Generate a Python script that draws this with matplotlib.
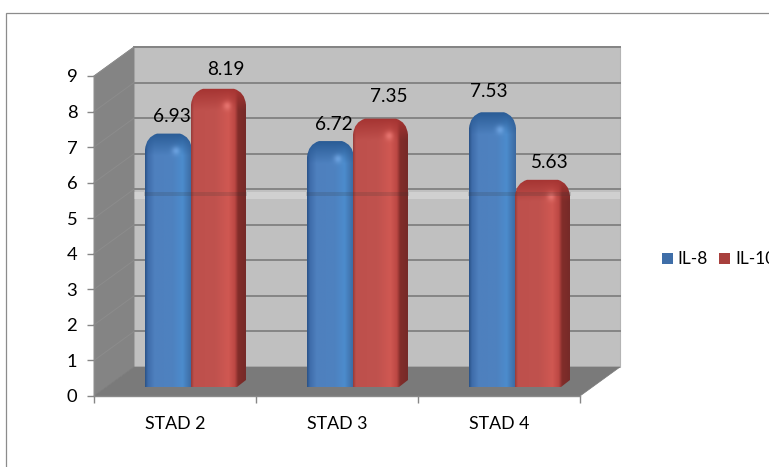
import numpy as np
import matplotlib
matplotlib.use("Agg")
import matplotlib.pyplot as plt
from matplotlib.patches import PathPatch, Polygon, Rectangle
from matplotlib.path import Path

categories = ["STAD 2", "STAD 3", "STAD 4"]
il8 = [6.93, 6.72, 7.53]
il10 = [8.19, 7.35, 5.63]
yticks = list(range(10))
series_names = ["IL-8", "IL-10"]

W, H = 769, 467
plt.rcParams['font.family'] = ['Lato', 'DejaVu Sans']
FS = 12.8
fig = plt.figure(figsize=(W/100, H/100), dpi=100)
fig.patch.set_facecolor('white')
L, R, T, B = 94, 580, 76, 396
ax = fig.add_axes([L/W, 1-B/H, (R-L)/W, (B-T)/H])
ax.set_xlim(0, 3)
ax.set_ylim(0, 9)
ax.patch.set_visible(False)
for s in ax.spines.values():
    s.set_visible(False)

px_x = 3/(R-L)      # data per pixel
px_y = 9/(B-T)
dx, dy = 40*px_x, 29*px_y

# outer chart border
fig.add_artist(Rectangle((5.5/W, -0.1), 1.0, 1-12.5/H+0.1, transform=fig.transFigure,
                         fc='none', ec='#8c8c8c', lw=0.9))

# walls
ax.add_patch(Rectangle((dx, dy), 3, 9, fc='#c0c0c0', ec='#b4b4b4', lw=0.8, clip_on=False, zorder=1))
ax.plot([dx, 3+dx], [9+dy, 9+dy], color='#8e8e8e', lw=1.2, clip_on=False, zorder=1.2)
ax.add_patch(Polygon([(0, 0), (dx, dy), (dx, 9+dy), (0, 9)], fc='#848484', ec='#848484', lw=0.5, clip_on=False, zorder=1.5))
ax.add_patch(Polygon([(0, 0), (3, 0), (3+dx, dy), (dx, dy)], fc='#7a7a7a', ec='#7a7a7a', lw=0.5, clip_on=False, zorder=1.5))

# gridlines
for v in yticks[1:]:
    ax.plot([dx, 3+dx], [v+dy, v+dy], color='#858585', lw=1.4, clip_on=False, zorder=1.3)
    ax.plot([0, dx], [v, v+dy], color='#8c8c8c', lw=0.7, clip_on=False, zorder=1.6)

# axes
ax.set_xticks([0, 1, 2, 3])
ax.set_xticklabels([])
ax.set_yticks(yticks)
ax.tick_params(axis='both', color='#868686', width=1.0, length=5, labelsize=FS+0.4, labelcolor='black', pad=7)
ax.plot([0, 3], [0, 0], color='#8a8a8a', lw=1.0, clip_on=False, zorder=1.7)
ax.plot([0, 0], [0, 9], color='#8a8a8a', lw=1.0, clip_on=False, zorder=1.7)
for i, c in enumerate(categories):
    ax.text(i+0.5, -28/35.55, c, ha='center', va='center', fontsize=FS, color='black')

BASE = 9*px_y
CAP = 16*px_y


def bar(x0, x1, value, stops, light, order, chamfer=False):
    top = value + CAP
    cx = 12*px_x
    cy = 16*px_y
    ch = 9*px_x if chamfer else 2*px_x
    verts = [(x0, BASE), (x0, top-cy), (x0+0.1*cx, top-0.2*cy), (x0+cx, top),
             (x1-cx, top), (x1-0.1*cx, top-0.2*cy), (x1, top-cy),
             (x1, BASE+7*px_y if chamfer else BASE), (x1-ch, BASE), (x0, BASE)]
    codes = [Path.MOVETO, Path.LINETO, Path.CURVE3, Path.CURVE3,
             Path.LINETO, Path.CURVE3, Path.CURVE3,
             Path.LINETO, Path.LINETO, Path.CLOSEPOLY]
    n = 120
    ny = 240
    frac = np.linspace(0, 1, n)
    pos, cols = zip(*stops)
    cols = np.array(cols, dtype=float)/255
    row = np.stack([np.interp(frac, pos, cols[:, k]) for k in range(3)], axis=1)
    ys = np.linspace(top, BASE, ny)
    img = np.repeat(row[None, :, :], ny, axis=0)
    t = np.clip((top-ys)/(22*px_y), 0, 1)[:, None, None]
    dark = np.array(light, dtype=float)/255
    img = img*t + dark*(1-t)
    # specular spot near the top
    fx = (frac-0.66)*(x1-x0)/px_x
    fy = (ys-(top-17*px_y))/px_y
    spot = np.exp(-(fx[None, :]**2)/18 - (fy[:, None]**2)/18)[:, :, None]
    img = img*(1-0.55*spot) + 0.55*spot*np.minimum(1, img+0.25)
    im = ax.imshow(img, extent=[x0, x1, BASE, top], origin='upper', aspect='auto',
                   zorder=order, interpolation='bilinear')
    clip = PathPatch(Path(verts, codes), transform=ax.transData, fc='none', ec='none')
    ax.add_patch(clip)
    im.set_clip_path(clip)


blue = [(0, (42, 82, 135)), (0.06, (62, 108, 170)), (0.2, (78, 128, 190)), (0.6, (78, 130, 192)),
        (0.8, (76, 140, 205)), (1, (60, 105, 160))]
red = [(0, (150, 60, 58)), (0.05, (190, 80, 76)), (0.45, (192, 82, 78)), (0.68, (208, 88, 82)),
       (0.8, (188, 72, 68)), (0.86, (130, 45, 42)), (1, (118, 42, 40))]
blue_top = (42, 92, 150)
red_top = (165, 52, 50)

il8_off = [(3, 17), (3, 17), (-4, 21)]
il10_off = [(7, 19), (8, 22), (7, 17)]
seam = 5.55
for i in range(3):
    bx0, bx1 = i + 51*px_x, i + 98*px_x
    rx0, rx1 = i + 97*px_x, i + 152*px_x
    bar(bx0, bx1, il8[i], blue, blue_top, 3)
    bar(rx0, rx1, il10[i], red, red_top, 4, chamfer=True)
    # faint darker seam across the pair of bars
    ax.add_patch(Rectangle((bx0-1*px_x, seam+0.08), rx1-bx0+2*px_x, 4*px_y, fc='#333333', ec='none',
                           alpha=0.16, zorder=5))
    ax.annotate(f"{il8[i]:.2f}", ((bx0+bx1)/2, il8[i]+CAP), xytext=il8_off[i], textcoords='offset pixels',
                ha='center', va='center', fontsize=FS+0.9, color='black', zorder=6, annotation_clip=False)
    ax.annotate(f"{il10[i]:.2f}", ((rx0+rx1)/2, il10[i]+CAP), xytext=il10_off[i], textcoords='offset pixels',
                ha='center', va='center', fontsize=FS+0.9, color='black', zorder=6, annotation_clip=False)

ax.set_xlim(0, 3)
ax.set_ylim(0, 9)

# lighter scan-seam band on the back wall
ax.add_patch(Rectangle((dx, seam), 3, 0.18, fc='#d0d0d0', ec='none', zorder=1.4, clip_on=False))

# legend (the reference's last label runs into the picture edge)
for (x, name, col, tx) in [(662, series_names[0], '#3f6ea8', 677), (719, series_names[1], '#a8403d', 735)]:
    fig.add_artist(Rectangle((x/W, 1-264/H), 11/W, 11/H, transform=fig.transFigure, fc=col, ec='none'))
    fig.text(tx/W, 1-258.5/H, name, ha='left', va='center', fontsize=FS-0.4, color='black')

fig.savefig("out.png", dpi=100)
